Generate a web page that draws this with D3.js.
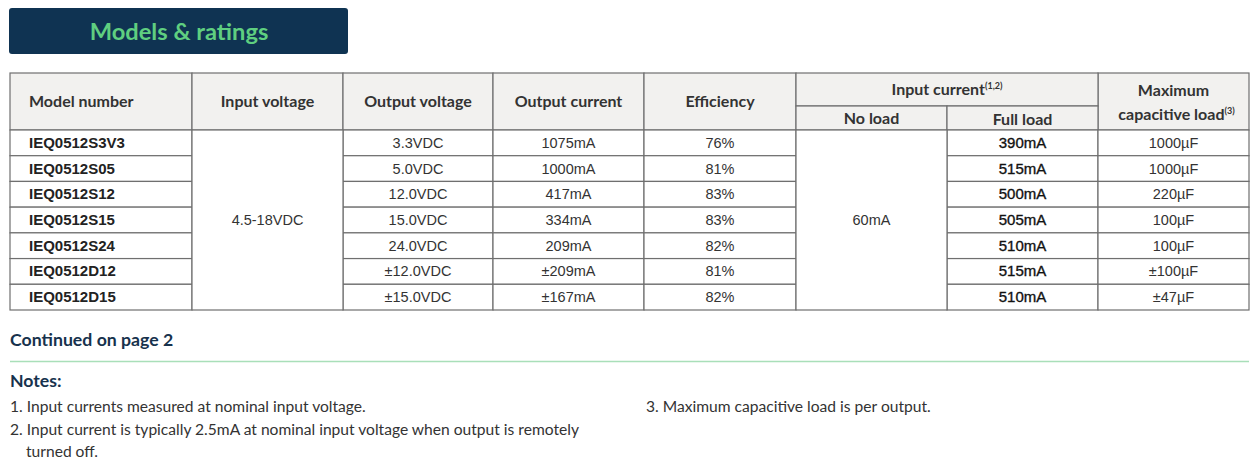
<!DOCTYPE html>
<html>
<head>
<meta charset="utf-8">
<script src="https://cdn.jsdelivr.net/npm/d3@7"></script>
<style>
  body { margin: 0; background: #fff; }
  svg { display: block; }
  .hd { font-family: Lato, "Open Sans", sans-serif; font-weight: bold; font-size: 16px; fill: #333; }
  .bd { font-family: "Liberation Sans", Arial, sans-serif; font-size: 14.5px; fill: #333; }
  .note { font-family: Lato, sans-serif; font-size: 15.6px; fill: #333; }
</style>
</head>
<body>
<div id="chart"></div>
<script>
var models        = ["IEQ0512S3V3", "IEQ0512S05", "IEQ0512S12", "IEQ0512S15", "IEQ0512S24", "IEQ0512D12", "IEQ0512D15"];
var inputVoltage  = "4.5-18VDC";
var outputVoltage = ["3.3VDC", "5.0VDC", "12.0VDC", "15.0VDC", "24.0VDC", "±12.0VDC", "±15.0VDC"];
var outputCurrent = ["1075mA", "1000mA", "417mA", "334mA", "209mA", "±209mA", "±167mA"];
var efficiency    = ["76%", "81%", "83%", "83%", "82%", "81%", "82%"];
var noLoad        = "60mA";
var fullLoad      = ["390mA", "515mA", "500mA", "505mA", "510mA", "515mA", "510mA"];
var capLoad       = ["1000µF", "1000µF", "220µF", "100µF", "100µF", "±100µF", "±47µF"];
var notes = [
  ["1. Input currents measured at nominal input voltage."],
  ["2. Input current is typically 2.5mA at nominal input voltage when output is remotely", "turned off."]
];
var note3 = "3. Maximum capacitive load is per output.";

var W = 1260, H = 465;
var svg = d3.select("#chart").append("svg").attr("width", W).attr("height", H);

// title badge
svg.append("rect").attr("x", 9).attr("y", 8).attr("width", 339).attr("height", 46)
  .attr("rx", 3).attr("fill", "#0f3352");
svg.append("text").attr("x", 179).attr("y", 39.5).attr("text-anchor", "middle")
  .style("font-family", "Lato, sans-serif").style("font-weight", "bold").style("font-size", "23.7px")
  .attr("fill", "#5fcf80").text("Models & ratings");

// columns
var colKeys = ["model", "vin", "vout", "iout", "eff", "noload", "full", "cap"];
var colEdges = [10, 192, 343, 493, 644, 796, 947, 1098, 1249];
var colX = d3.scaleOrdinal().domain(colKeys).range(colEdges.slice(0, 8));
var colW = d3.scaleOrdinal().domain(colKeys).range(colEdges.slice(1).map(function(e, i) { return e - colEdges[i]; }));

var tTop = 73, tMid = 106, headBot = 130, tableBot = 310;
var y = d3.scaleBand().domain(models).range([headBot, tableBot]);

var lineCol = "#6f6f6f", headFill = "#f2f1ef";
var g = svg.append("g");

function cell(x, yy, w, h, fill) {
  g.append("rect").attr("x", x).attr("y", yy).attr("width", w).attr("height", h)
    .attr("fill", fill || "#fff").attr("stroke", lineCol).attr("stroke-width", 1.2);
}

// header cells
["model", "vin", "vout", "iout", "eff", "cap"].forEach(function(k) {
  cell(colX(k), tTop, colW(k), headBot - tTop, headFill);
});
cell(colX("noload"), tTop, colW("noload") + colW("full"), tMid - tTop, headFill);
cell(colX("noload"), tMid, colW("noload"), headBot - tMid, headFill);
cell(colX("full"), tMid, colW("full"), headBot - tMid, headFill);

var headMidY = (tTop + headBot) / 2 + 5.5;
g.append("text").attr("class", "hd").attr("x", colX("model") + 19).attr("y", headMidY).text("Model number");
[["vin", "Input voltage"], ["vout", "Output voltage"], ["iout", "Output current"], ["eff", "Efficiency"]].forEach(function(d) {
  g.append("text").attr("class", "hd").attr("text-anchor", "middle")
    .attr("x", colX(d[0]) + colW(d[0]) / 2).attr("y", headMidY).text(d[1]);
});
var ic = g.append("text").attr("class", "hd").attr("text-anchor", "middle")
  .attr("x", colX("full")).attr("y", (tTop + tMid) / 2 + 5.5);
ic.append("tspan").text("Input current");
ic.append("tspan").attr("dy", -6).style("font-size", "9px").text("(1,2)");
g.append("text").attr("class", "hd").attr("text-anchor", "middle")
  .attr("x", colX("noload") + colW("noload") / 2).attr("y", (tMid + headBot) / 2 + 6).text("No load");
g.append("text").attr("class", "hd").attr("text-anchor", "middle")
  .attr("x", colX("full") + colW("full") / 2).attr("y", (tMid + headBot) / 2 + 6.5).text("Full load");
g.append("text").attr("class", "hd").attr("text-anchor", "middle")
  .attr("x", colX("cap") + colW("cap") / 2).attr("y", 96).text("Maximum");
var cl = g.append("text").attr("class", "hd").attr("text-anchor", "middle")
  .attr("x", colX("cap") + colW("cap") / 2 + 3).attr("y", 119.5);
cl.append("tspan").text("capacitive load");
cl.append("tspan").attr("dy", -6).style("font-size", "9px").text("(3)");

// body cells
var perRow = [["model", models], ["vout", outputVoltage], ["iout", outputCurrent], ["eff", efficiency], ["full", fullLoad], ["cap", capLoad]];
perRow.forEach(function(c) {
  var k = c[0], vals = c[1];
  models.forEach(function(m, i) {
    cell(colX(k), y(m), colW(k), y.bandwidth());
    var t = g.append("text").attr("class", "bd")
      .attr("y", y(m) + y.bandwidth() / 2 + 5).text(vals[i]);
    if (k === "model") {
      t.attr("x", colX(k) + 19).style("font-weight", "bold").style("font-size", "15px").style("fill", "#222");
    } else {
      t.attr("x", colX(k) + colW(k) / 2).attr("text-anchor", "middle");
    }
    if (k === "full") {
      t.style("font-size", "15px").style("fill", "#111")
        .style("stroke", "#111").style("stroke-width", 0.35);
    }
  });
});
// merged cells
[["vin", inputVoltage], ["noload", noLoad]].forEach(function(d) {
  cell(colX(d[0]), headBot, colW(d[0]), tableBot - headBot);
  g.append("text").attr("class", "bd").attr("text-anchor", "middle")
    .attr("x", colX(d[0]) + colW(d[0]) / 2).attr("y", y(models[3]) + y.bandwidth() / 2 + 5).text(d[1]);
});

// footer
svg.append("text").attr("x", 10).attr("y", 346)
  .style("font-family", "Lato, sans-serif").style("font-weight", "bold").style("font-size", "17.7px")
  .attr("fill", "#17324d").text("Continued on page 2");
svg.append("line").attr("x1", 10).attr("x2", 1249).attr("y1", 361.5).attr("y2", 361.5)
  .attr("stroke", "#a9dfb9").attr("stroke-width", 1.5);
svg.append("text").attr("x", 10).attr("y", 387)
  .style("font-family", "Lato, sans-serif").style("font-weight", "bold").style("font-size", "17.7px")
  .attr("fill", "#17324d").text("Notes:");

var noteY = [412, 435];
notes.forEach(function(lines, i) {
  lines.forEach(function(l, j) {
    svg.append("text").attr("class", "note").attr("x", j ? 26 : 10).attr("y", noteY[i] + j * 22).text(l);
  });
});
svg.append("text").attr("class", "note").attr("x", 646).attr("y", 412).text(note3);
</script>
</body>
</html>
